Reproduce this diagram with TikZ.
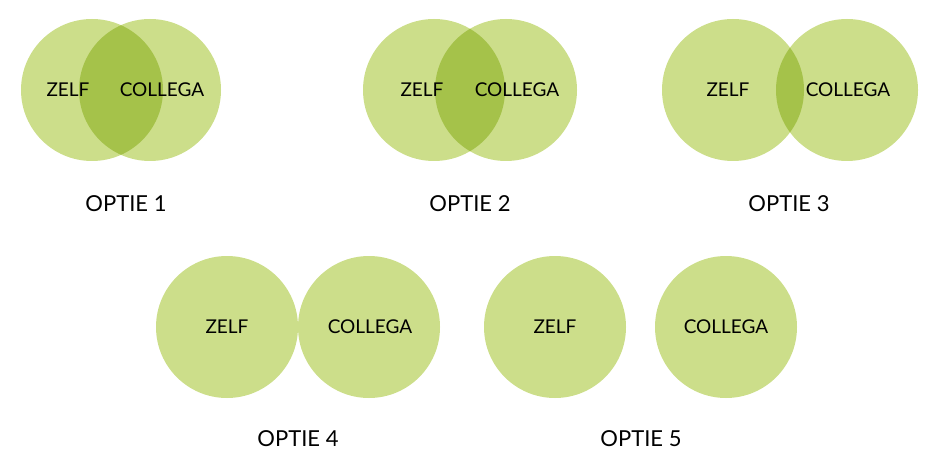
\documentclass[tikz,border=0pt]{standalone}
\usepackage{fontspec}
\setmainfont{Lato}
\definecolor{bolgroen}{HTML}{CCDE8A}
\definecolor{lensgroen}{HTML}{A5C24A}
\def\lens(#1)(#2){\begin{scope}\clip (#1) circle (71pt); \fill[lensgroen] (#2) circle (71pt);\end{scope}}

\begin{document}
\begin{tikzpicture}[x=1pt, y=-1pt,
	bol/.style={fill=bolgroen},
	naam/.style={font=\fontsize{19}{19}\selectfont, inner sep=0pt},
	optie/.style={font=\fontsize{22}{22}\selectfont, inner sep=0pt}]
		%%%%% START %%%%%
		\useasboundingbox (0, 0) rectangle (939, 473);
		
		% optie 1
		\fill[bol] (92, 90) circle (71pt);
		\fill[bol] (150, 90) circle (71pt);
		\lens(92, 90)(150, 90);
		\node[naam] (zelf1) at (68, 90) {ZELF};
		\node[naam] (collega1) at (162, 90) {COLLEGA};
		\node[optie] (optie1) at (126, 204) {OPTIE 1};
		
		% optie 2
		\fill[bol] (434, 90) circle (71pt);
		\fill[bol] (506, 90) circle (71pt);
		\lens(434, 90)(506, 90);
		\node[naam] (zelf2) at (422, 90) {ZELF};
		\node[naam] (collega2) at (517, 90) {COLLEGA};
		\node[optie] (optie2) at (470, 204) {OPTIE 2};
		
		% optie 3
		\fill[bol] (733, 90) circle (71pt);
		\fill[bol] (847, 90) circle (71pt);
		\lens(733, 90)(847, 90);
		\node[naam] (zelf3) at (728, 90) {ZELF};
		\node[naam] (collega3) at (848, 90) {COLLEGA};
		\node[optie] (optie3) at (789, 204) {OPTIE 3};
		
		% optie 4
		\fill[bol] (227, 327) circle (71pt);
		\fill[bol] (369, 327) circle (71pt);
		\node[naam] (zelf4) at (227, 327) {ZELF};
		\node[naam] (collega4) at (370, 327) {COLLEGA};
		\node[optie] (optie4) at (298, 439) {OPTIE 4};
		
		% optie 5
		\fill[bol] (555, 327) circle (71pt);
		\fill[bol] (726, 327) circle (71pt);
		\node[naam] (zelf5) at (555, 327) {ZELF};
		\node[naam] (collega5) at (726, 327) {COLLEGA};
		\node[optie] (optie5) at (641, 439) {OPTIE 5};
		
		%%%%% END %%%%%
	\end{tikzpicture}
\end{document}
